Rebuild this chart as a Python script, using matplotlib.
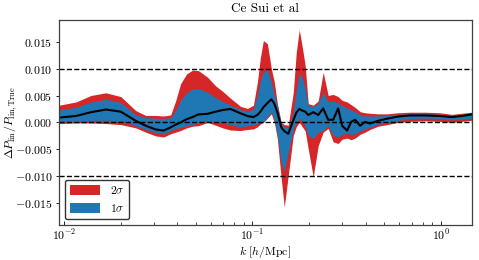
import numpy as np
import matplotlib
matplotlib.use("Agg")
import matplotlib.pyplot as plt

plt.rcParams['font.family'] = 'serif'
plt.rcParams['font.serif'] = ['cmr10']
plt.rcParams['mathtext.fontset'] = 'cm'
plt.rcParams['axes.formatter.use_mathtext'] = True

# k [h/Mpc]
k = [0.00941, 0.01157, 0.01389, 0.01668, 0.02002, 0.02404, 0.02716, 0.03068,
     0.03381, 0.03683, 0.03914, 0.04159, 0.04475, 0.04814, 0.05180, 0.05779,
     0.06372, 0.06939, 0.07651, 0.08640, 0.09409, 0.1012, 0.1063, 0.1102,
     0.1143, 0.1201, 0.1260, 0.1307, 0.1356, 0.1423, 0.1476, 0.1550,
     0.1648, 0.1709, 0.1773, 0.1839, 0.1907, 0.1978, 0.2102, 0.2235,
     0.2375, 0.2524, 0.2683, 0.2851, 0.2994, 0.3182, 0.3341, 0.3508,
     0.3728, 0.3962, 0.4210, 0.4642, 0.5180, 0.5923, 0.6855, 0.8228,
     0.9878, 1.1435, 1.2915, 1.4588]

# upper 2 sigma
hi2 = [0.0032, 0.0038, 0.0050, 0.0055, 0.0048, 0.0022, 0.0013, 0.0013,
       0.0012, 0.0014, 0.0040, 0.0072, 0.0090, 0.0097, 0.0096, 0.0084,
       0.0068, 0.0058, 0.0045, 0.0030, 0.0026, 0.0032, 0.0075, 0.0120,
       0.0152, 0.0146, 0.0100, 0.0075, 0.0035, 0.0000, -0.0004, -0.0005,
       0.0056, 0.0130, 0.0172, 0.0140, 0.0105, 0.0035, 0.0032, 0.0040,
       0.0093, 0.0050, 0.0052, 0.0048, 0.0041, 0.0038, 0.0033, 0.0028,
       0.0020, 0.0018, 0.0017, 0.0016, 0.0016, 0.0018, 0.0019, 0.0019,
       0.0018, 0.0015, 0.0017, 0.0019]

# upper 1 sigma
hi1 = [0.0023, 0.0028, 0.0038, 0.0043, 0.0037, 0.0014, 0.0009, 0.0008,
       0.0007, 0.0009, 0.0022, 0.0041, 0.0055, 0.0062, 0.0063, 0.0056,
       0.0046, 0.0039, 0.0032, 0.0024, 0.0020, 0.0025, 0.0050, 0.0078,
       0.0093, 0.0098, 0.0075, 0.0050, 0.0031, -0.0003, -0.0008, -0.0010,
       0.0019, 0.0060, 0.0091, 0.0083, 0.0062, 0.0031, 0.0030, 0.0035,
       0.0056, 0.0038, 0.0040, 0.0036, 0.0031, 0.0027, 0.0023, 0.0020,
       0.0014, 0.0012, 0.0012, 0.0012, 0.0013, 0.0015, 0.0016, 0.0016,
       0.0015, 0.0013, 0.0014, 0.0017]

# mean
mean = [0.0009, 0.0012, 0.0019, 0.0024, 0.0020, 0.0003, -0.0006, -0.0013,
        -0.0015, -0.0009, -0.0004, 0.0000, 0.0006, 0.0010, 0.0015, 0.0016,
        0.0020, 0.0023, 0.0025, 0.0017, 0.0012, 0.0010, 0.0014, 0.0020,
        0.0028, 0.0036, 0.0043, 0.0035, 0.0019, -0.0009, -0.0016, -0.0021,
        0.0004, 0.0018, 0.0025, 0.0022, 0.0020, 0.0014, 0.0019, 0.0014,
        0.0026, 0.0005, 0.0005, 0.0026, -0.0006, -0.0015, 0.0001, 0.0005,
        -0.0006, 0.0001, -0.0002, 0.0003, 0.0007, 0.0011, 0.0013, 0.0013,
        0.0012, 0.0010, 0.0012, 0.0015]

# lower 1 sigma
lo1 = [0.0001, 0.0002, 0.0004, 0.0004, 0.0003, -0.0006, -0.0013, -0.0019,
       -0.0021, -0.0015, -0.0012, -0.0009, -0.0006, -0.0004, 0.0000, 0.0002,
       0.0001, -0.0001, -0.0004, -0.0008, -0.0006, -0.0004, -0.0002, 0.0000,
       0.0001, 0.0010, 0.0019, 0.0005, -0.0024, -0.0075, -0.0090, -0.0055,
       -0.0012, 0.0000, 0.0007, 0.0001, -0.0007, -0.0024, -0.0030, -0.0018,
       -0.0015, -0.0006, -0.0024, -0.0027, -0.0022, -0.0020, -0.0022, -0.0021,
       -0.0016, -0.0012, -0.0009, -0.0003, -0.0001, 0.0004, 0.0007, 0.0008,
       0.0007, 0.0005, 0.0006, 0.0008]

# lower 2 sigma
lo2 = [-0.0002, -0.0001, -0.0001, -0.0002, -0.0004, -0.0010, -0.0018, -0.0025,
       -0.0027, -0.0021, -0.0018, -0.0015, -0.0010, -0.0007, -0.0006, 0.0000,
       -0.0005, -0.0010, -0.0014, -0.0015, -0.0013, -0.0012, -0.0008, -0.0003,
       0.0000, 0.0008, 0.0016, 0.0000, -0.0030, -0.0105, -0.0157, -0.0098,
       -0.0024, -0.0008, 0.0000, -0.0008, -0.0016, -0.0049, -0.0101, -0.0043,
       -0.0018, -0.0011, -0.0036, -0.0039, -0.0031, -0.0029, -0.0032, -0.0029,
       -0.0022, -0.0018, -0.0013, -0.0007, -0.0004, 0.0000, 0.0002, 0.0003,
       0.0002, 0.0000, 0.0002, 0.0004]

fig = plt.figure(figsize=(4.79, 2.60), dpi=100)
ax = fig.add_axes([0.123, 0.135, 0.862, 0.788])

ax.fill_between(k, lo2, hi2, color='#d62728', lw=0, label=r'$2\sigma$')
ax.fill_between(k, lo1, hi1, color='#1f77b4', lw=0, label=r'$1\sigma$')
ax.plot(k, mean, color='k', lw=1.5)

for y in [0.01, 0.0, -0.01]:
    ax.axhline(y, color='k', ls='--', lw=1.0)

ax.set_xscale('log')
ax.set_xlim(0.0094, 1.46)
ax.set_ylim(-0.019, 0.019)
ax.set_yticks([-0.015, -0.010, -0.005, 0.0, 0.005, 0.010, 0.015])
ax.set_yticklabels(['$-0.015$', '$-0.010$', '$-0.005$', '$0.000$', '$0.005$', '$0.010$', '$0.015$'])
ax.tick_params(axis='x', which='major', direction='in', length=3, width=0.6, pad=2, labelsize=8.5)
ax.tick_params(axis='x', which='minor', direction='in', length=2, width=0.5)
ax.tick_params(axis='y', direction='out', length=2.5, width=0.6, pad=2, labelsize=8.5)
for s in ax.spines.values():
    s.set_color('#404040')
    s.set_linewidth(0.9)

ax.set_xlabel(r'$k\ [h/{\rm Mpc}]$', fontsize=8.5)
ax.xaxis.set_label_coords(0.5, -0.093)
ax.xaxis.label.set_va('top')
ax.set_ylabel(r'$\Delta P_{\rm lin}/P_{\rm lin,True}$', fontsize=8.5)
ax.yaxis.set_label_coords(-0.097, 0.5)
ax.set_title('Ce Sui et al', fontsize=9.5, pad=6)

leg = ax.legend(loc='lower left', fontsize=8.5, frameon=True, fancybox=True,
                handlelength=2.6, handleheight=0.9, borderaxespad=0.5)
leg.get_frame().set_edgecolor('#333333')
leg.get_frame().set_alpha(1)

fig.savefig('out.png', dpi=100)
